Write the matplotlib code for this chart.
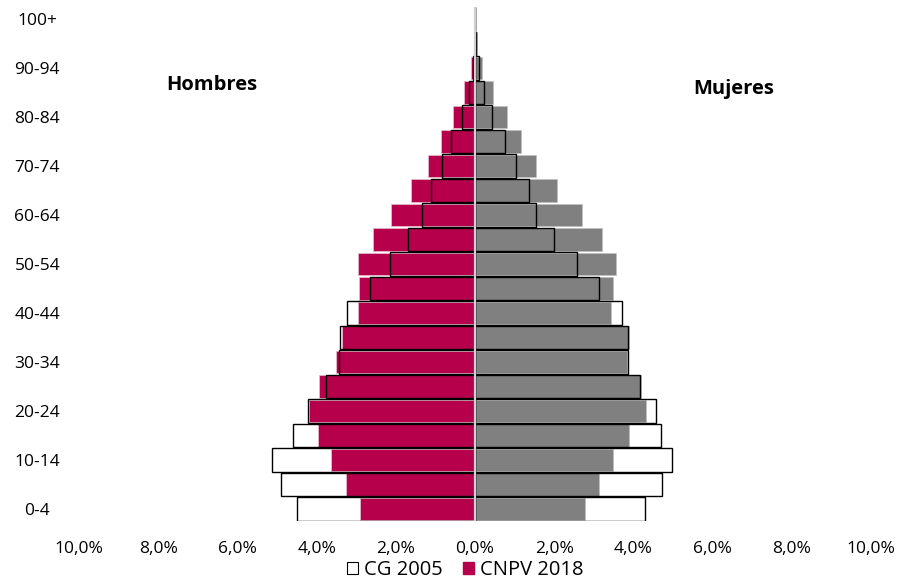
import numpy as np
import matplotlib.pyplot as plt
from matplotlib.patches import Patch

plt.rcParams['font.family'] = ['Open Sans', 'DejaVu Sans']

edades = ['0-4', '5-9', '10-14', '15-19', '20-24', '25-29', '30-34', '35-39',
          '40-44', '45-49', '50-54', '55-59', '60-64', '65-69', '70-74', '75-79',
          '80-84', '85-89', '90-94', '95-99', '100+']

# porcentajes (%)
hombres_2018 = [2.90, 3.25, 3.64, 3.97, 4.19, 3.93, 3.51, 3.37, 2.96, 2.93, 2.95,
                2.58, 2.11, 1.62, 1.19, 0.85, 0.55, 0.29, 0.10, 0.03, 0.01]
hombres_2005 = [4.49, 4.90, 5.13, 4.59, 4.21, 3.77, 3.43, 3.41, 3.22, 2.64, 2.15,
                1.68, 1.33, 1.11, 0.83, 0.61, 0.33, 0.15, 0.05, 0.01, 0.00]
mujeres_2018 = [2.78, 3.13, 3.49, 3.90, 4.31, 4.19, 3.83, 3.89, 3.43, 3.49, 3.55,
                3.20, 2.70, 2.06, 1.53, 1.15, 0.81, 0.45, 0.18, 0.05, 0.01]
mujeres_2005 = [4.29, 4.73, 4.98, 4.70, 4.57, 4.17, 3.87, 3.86, 3.72, 3.13, 2.57,
                2.00, 1.54, 1.36, 1.04, 0.75, 0.42, 0.23, 0.09, 0.03, 0.00]

rojo = '#B7004B'
gris = '#808080'

fig = plt.figure(figsize=(9.03, 5.81), dpi=100)
ax = fig.add_axes([79 / 903, 1 - 521.25 / 581, (871 - 79) / 903, 514.5 / 581])

y = np.arange(len(edades))
ax.barh(y, -np.array(hombres_2018), height=0.9, color=rojo, edgecolor='#e8c0d0', linewidth=0.5, zorder=2)
ax.barh(y, mujeres_2018, height=0.9, color=gris, edgecolor='#c0c0c0', linewidth=0.5, zorder=2)
ax.barh(y, -np.array(hombres_2005), height=0.97, facecolor='none', edgecolor='black', linewidth=1.0, zorder=3)
ax.barh(y, mujeres_2005, height=0.97, facecolor='none', edgecolor='black', linewidth=1.0, zorder=3)
ax.axvline(0, color='#d0d0d0', linewidth=1.6, zorder=4)

ax.set_xlim(-10, 10)
ax.set_ylim(-0.5, len(edades) - 0.5)
ticks = np.arange(-10, 11, 2)
ax.set_xticks(ticks)
ax.set_xticklabels([f'{abs(t):.1f}%'.replace('.', ',') for t in ticks], fontsize=12.5)
ax.set_yticks(y[::2])
ax.set_yticklabels(edades[::2], fontsize=12.5, ha='center')
ax.tick_params(axis='x', length=0, pad=14)
ax.tick_params(axis='y', length=0, pad=30)
for s in ax.spines.values():
    s.set_visible(False)

ax.text(-6.64, 17.3, 'Hombres', fontsize=14.5, fontweight='bold', ha='center', va='center')
ax.text(6.54, 17.15, 'Mujeres', fontsize=14.5, fontweight='bold', ha='center', va='center')

handles = [Patch(facecolor='white', edgecolor='black', linewidth=0.8),
           Patch(facecolor=rojo, edgecolor=rojo)]
fig.legend(handles, ['CG 2005', 'CNPV 2018'], loc='center', bbox_to_anchor=(465 / 903, 1 - 570 / 581),
           ncol=2, frameon=False, fontsize=14.5, handlelength=0.55, handleheight=0.55,
           handletextpad=0.3, columnspacing=1.0, borderpad=0)

fig.savefig('out.png', dpi=100)
